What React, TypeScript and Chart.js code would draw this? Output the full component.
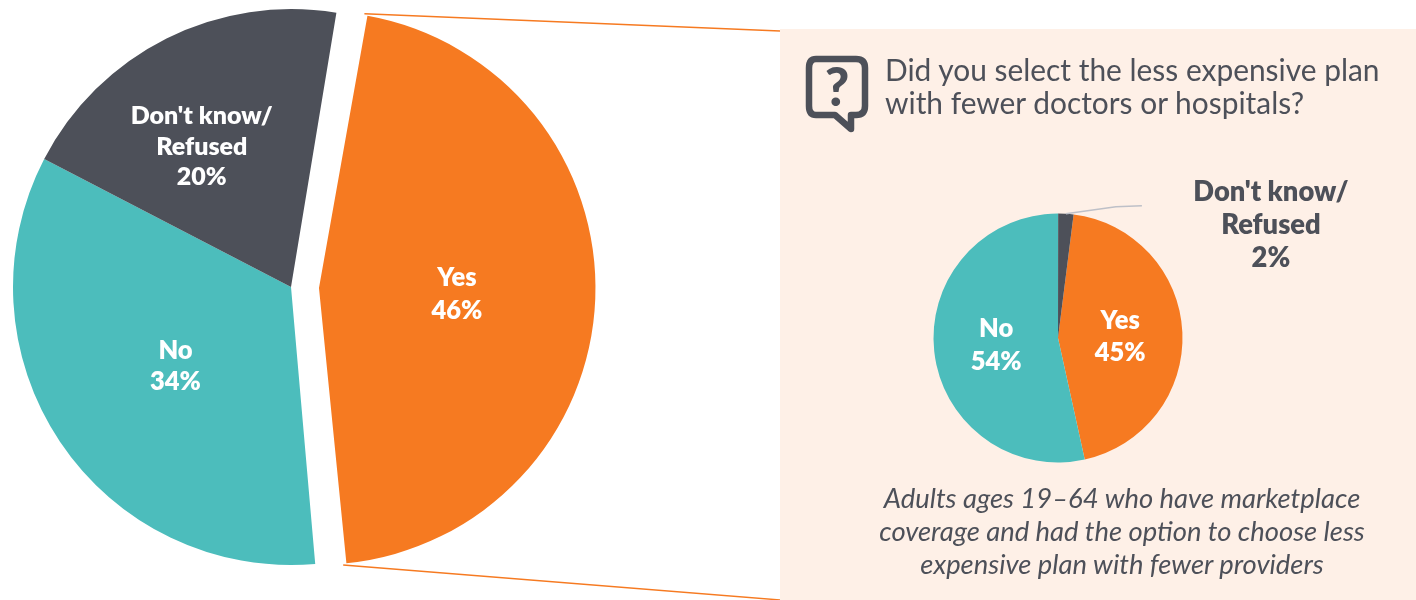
import { useEffect, useRef } from "react";
import { Chart, registerables } from "chart.js";

Chart.register(...registerables);

// Overall respondents
const overallLabels = [["Yes", "46%"], ["No", "34%"], ["Don't know/", "Refused", "20%"]];
const overallValues = [46, 34, 20];
// Respondents offered the cheaper plan
const subsetLabels = [["Yes", "45%"], ["No", "54%"], ["Don't know/", "Refused", "2%"]];
const subsetValues = [45, 54, 2];

const headingLines = ["Did you select the less expensive plan", "with fewer doctors or hospitals?"];
const captionLines = [
  "Adults ages 19–64 who have marketplace",
  "coverage and had the option to choose less",
  "expensive plan with fewer providers",
];

const ORANGE = "#F67A21";
const TEAL = "#4CBDBC";
const SLATE = "#4D5059";
const PANEL = "#FEF0E7";
const FONT = "Lato";

type LabelLayout = { dx: number; dy: number; color: string; leading: number; size: number }[];

// Chart.js grows a pulled-out arc by part of its offset; this holds that slice to a set radius.
const evenRadius = {
  id: "evenRadius",
  afterDatasetUpdate(chart: any) {
    const meta = chart.getDatasetMeta(0);
    meta.data.forEach((arc: any) => {
      const shift = (arc.options.offset || 0) / 4;
      const growth = shift * (1 - Math.sin(Math.min(Math.PI, arc.circumference || 0)));
      arc.outerRadius = meta.controller.outerRadius - growth - (shift ? 1.5 : 0);
    });
  },
};

// Writes stacked label lines around each slice's mid-radius point.
function sliceLabels(lines: string[][], layout: LabelLayout) {
  return {
    id: "sliceLabels",
    afterDatasetsDraw(chart: any) {
      const ctx = chart.ctx;
      const meta = chart.getDatasetMeta(0);
      ctx.save();
      ctx.textAlign = "center";
      ctx.textBaseline = "middle";
      meta.data.forEach((arc: any, i: number) => {
        const mid = (arc.startAngle + arc.endAngle) / 2;
        const shift = (arc.options.offset || 0) / 4;
        const r = meta.controller.outerRadius / 2 + shift;
        const x = arc.x + Math.cos(mid) * r + layout[i].dx;
        const y = arc.y + Math.sin(mid) * r + layout[i].dy;
        ctx.font = `800 ${layout[i].size}px ${FONT}`;
        ctx.fillStyle = layout[i].color;
        lines[i].forEach((text, k) => {
          ctx.fillText(text, x, y + (k - (lines[i].length - 1) / 2) * layout[i].leading);
        });
      });
      ctx.restore();
    },
  };
}

// Thin rules fanning from the pulled-out slice to the corners of the panel.
const calloutRules = {
  id: "calloutRules",
  afterDatasetsDraw(chart: any) {
    const ctx = chart.ctx;
    const meta = chart.getDatasetMeta(0);
    const arc = meta.data[0];
    const radius = meta.controller.outerRadius;
    const mid = (arc.startAngle + arc.endAngle) / 2;
    const shift = arc.options.offset / 4;
    const ox = arc.x + Math.cos(mid) * shift;
    const oy = arc.y + Math.sin(mid) * shift;
    const ends: [number, number, number][] = [
      [arc.startAngle, 780, 31],
      [arc.endAngle, 780, 600],
    ];
    ctx.save();
    ctx.strokeStyle = ORANGE;
    ctx.lineWidth = 1.4;
    ends.forEach(([a, ex, ey]) => {
      ctx.beginPath();
      ctx.moveTo(ox + Math.cos(a) * radius, oy + Math.sin(a) * radius);
      ctx.lineTo(ex, ey);
      ctx.stroke();
    });
    ctx.restore();
  },
};

// Leader from the smallest slice towards its outside label.
const leaderLine = {
  id: "leaderLine",
  afterDatasetsDraw(chart: any) {
    const ctx = chart.ctx;
    const meta = chart.getDatasetMeta(0);
    const arc = meta.data[2];
    const radius = meta.controller.outerRadius;
    const mid = (arc.startAngle + arc.endAngle) / 2;
    const sx = arc.x + Math.cos(mid) * radius;
    const sy = arc.y + Math.sin(mid) * radius;
    ctx.save();
    ctx.strokeStyle = "#BEC0C8";
    ctx.lineWidth = 1.7;
    ctx.beginPath();
    ctx.moveTo(sx, sy);
    ctx.lineTo(sx + 50, sy - 7);
    ctx.lineTo(sx + 76, sy - 8);
    ctx.stroke();
    ctx.restore();
  },
};

function pieConfig(
  values: number[],
  rotation: number,
  radius: number,
  offsets: number[],
  padding: any,
  plugins: any[],
) {
  return {
    type: "pie" as const,
    data: {
      labels: ["Yes", "No", "Don't know/Refused"],
      datasets: [
        {
          data: values,
          backgroundColor: [ORANGE, TEAL, SLATE],
          borderWidth: 0,
          offset: offsets,
        },
      ],
    },
    options: {
      animation: false as const,
      responsive: false,
      rotation,
      radius,
      layout: { padding },
      plugins: { legend: { display: false }, tooltip: { enabled: false } },
      events: [],
    },
    plugins,
  };
}

export default function App() {
  const overallRef = useRef<HTMLCanvasElement>(null);
  const subsetRef = useRef<HTMLCanvasElement>(null);

  useEffect(() => {
    document.body.style.margin = "0";
    const overall = new Chart(
      overallRef.current!,
      pieConfig(
        overallValues,
        9.4,
        278,
        [112, 0, 0],
        { right: 834, bottom: 26 },
        [
          evenRadius,
          calloutRules,
          sliceLabels(overallLabels, [
            { dx: -1, dy: 1, color: "#fff", leading: 32.5, size: 25.5 },
            { dx: 0, dy: 2, color: "#fff", leading: 31, size: 25.5 },
            { dx: -27, dy: -16, color: "#fff", leading: 30.5, size: 25 },
          ]),
        ],
      ) as any,
    );
    const subset = new Chart(
      subsetRef.current!,
      pieConfig(
        subsetValues,
        7.2,
        124.5,
        [0, 0, 0],
        { right: 80, top: 47 },
        [
          leaderLine,
          sliceLabels(subsetLabels, [
            { dx: 0, dy: 2, color: "#fff", leading: 32, size: 25.5 },
            { dx: 0, dy: 1, color: "#fff", leading: 33, size: 25.5 },
            { dx: 209, dy: -51, color: SLATE, leading: 33, size: 27.3 },
          ]),
        ],
      ) as any,
    );
    return () => {
      overall.destroy();
      subset.destroy();
    };
  }, []);

  return (
    <div style={{ position: "relative", width: 1416, height: 600, overflow: "hidden", background: "#fff" }}>
      <div style={{ position: "absolute", left: 780, top: 29, width: 636, height: 571, background: PANEL }} />
      <canvas ref={overallRef} width={1416} height={600} style={{ position: "absolute", left: 0, top: 0 }} />
      <canvas ref={subsetRef} width={636} height={571} style={{ position: "absolute", left: 780, top: 29 }} />
      <svg width={70} height={84} style={{ position: "absolute", left: 802, top: 52 }}>
        <path
          d="M14 7 H54 Q63 7 63 16 V54 Q63 63 54 63 H49 V77 L33 63 H14 Q7 63 7 54 V16 Q7 7 14 7 Z"
          fill="none"
          stroke={SLATE}
          strokeWidth={6.5}
          strokeLinejoin="round"
        />
        <text x={35} y={54} textAnchor="middle" fontFamily={FONT} fontWeight={900} fontSize={53} fill={SLATE}>
          ?
        </text>
      </svg>
      <div
        style={{
          position: "absolute",
          left: 885,
          top: 53,
          fontFamily: FONT,
          fontSize: 29.9,
          lineHeight: "33px",
          color: SLATE,
          whiteSpace: "nowrap",
        }}
      >
        {headingLines.map((t) => (
          <div key={t}>{t}</div>
        ))}
      </div>
      <div
        style={{
          position: "absolute",
          left: 780,
          width: 684,
          top: 481,
          textAlign: "center",
          fontFamily: FONT,
          fontStyle: "italic",
          fontSize: 27.4,
          lineHeight: "33px",
          color: SLATE,
          whiteSpace: "nowrap",
        }}
      >
        {captionLines.map((t) => (
          <div key={t}>{t}</div>
        ))}
      </div>
    </div>
  );
}
